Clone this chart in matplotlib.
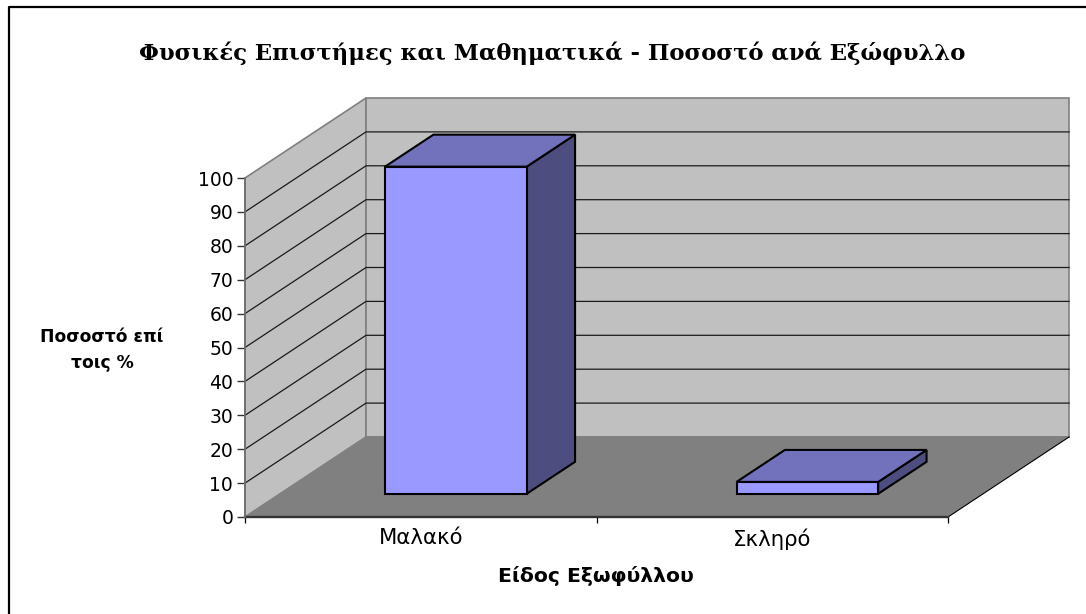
import matplotlib
matplotlib.use('Agg')
import matplotlib.pyplot as plt
from matplotlib.lines import Line2D
from matplotlib.patches import Polygon

title = 'Φυσικές Επιστήμες και Μαθηματικά - Ποσοστό ανά Εξώφυλλο'
xlabel = 'Είδος Εξωφύλλου'
ylabel = 'Ποσοστό επί\nτοις %'
categories = ['Μαλακό', 'Σκληρό']
values = [96.5, 3.5]
yticks = [0, 10, 20, 30, 40, 50, 60, 70, 80, 90, 100]

W, H = 1086, 614
# oblique depth: how far the back wall is shifted, in x and y data units
DX = 121 / 351.5
DY = 80 / 3.39
BAR_W = 0.403
D0, D1 = 0.29, 0.69

def pr(x, v, d):
    return (x + d * DX, v + d * DY)

fig = plt.figure(figsize=(W / 100, H / 100), dpi=100)
fig.patch.set_facecolor('white')
# outer frame, only top and left show in the picture
fig.add_artist(Line2D([8.5 / W, 8.5 / W, 1], [0, 1 - 7 / H, 1 - 7 / H], transform=fig.transFigure,
                      color='black', lw=1.6))

ax = fig.add_axes([245 / W, 1 - 517 / H, 703 / W, 339 / H])
ax.set_xlim(0, 2)
ax.set_ylim(0, 100)
ax.patch.set_visible(False)
for s in ax.spines.values():
    s.set_visible(False)

def face(pts, fc, ec, lw=1.0, z=1):
    ax.add_patch(Polygon(pts, closed=True, fc=fc, ec=ec, lw=lw, zorder=z, clip_on=False, joinstyle='miter'))

n = len(categories)
# walls and floor
face([pr(0, 0, 0), pr(0, 100, 0), pr(0, 100, 1), pr(0, 0, 1)], '#C0C0C0', '#808080', 1.2, 1)
face([pr(0, 0, 1), pr(0, 100, 1), pr(n, 100, 1), pr(n, 0, 1)], '#C0C0C0', '#808080', 1.2, 1)
face([pr(0, 0, 0), pr(n, 0, 0), pr(n, 0, 1), pr(0, 0, 1)], '#808080', 'none', 0, 2)
ax.plot(*zip(pr(0, 0, 1), pr(n, 0, 1)), color='#808080', lw=1.2, zorder=2, clip_on=False)
ax.plot(*zip(pr(n, 0, 0), pr(n, 0, 1)), color='black', lw=0.8, zorder=3, clip_on=False)
ax.plot(*zip(pr(0, 0, 0), pr(0, 0, 1)), color='#808080', lw=0.8, zorder=3, clip_on=False)

# gridlines on side and back wall
for v in yticks[1:-1]:
    ax.plot(*zip(pr(0, v, 0), pr(0, v, 1), pr(n, v, 1)), color='#1a1a1a', lw=0.9, zorder=2, clip_on=False)

# bars
for i, v in enumerate(values):
    x0 = i + 0.5 - BAR_W / 2
    x1 = i + 0.5 + BAR_W / 2
    face([pr(x1, 0, D0), pr(x1, v, D0), pr(x1, v, D1), pr(x1, 0, D1)], '#4D4D80', 'black', 1.5, 4)
    face([pr(x0, v, D0), pr(x1, v, D0), pr(x1, v, D1), pr(x0, v, D1)], '#7272BC', 'black', 1.5, 4)
    face([pr(x0, 0, D0), pr(x1, 0, D0), pr(x1, v, D0), pr(x0, v, D0)], '#9999FF', 'black', 1.5, 5)

# front axis lines
ax.plot([0, n], [0, 0], color='#333333', lw=1.7, zorder=6, clip_on=False)
ax.plot([0, 0], [0, 100], color='#707070', lw=1.3, zorder=6, clip_on=False)

ax.set_yticks(yticks)
ax.set_yticklabels([str(t) for t in yticks], fontsize=13.5, family='DejaVu Sans', color='black')
ax.tick_params(axis='y', length=6, width=1.0, color='#333333', pad=2.5)
ax.set_xticks([0, 1, 2])
ax.set_xticks([i + 0.5 for i in range(n)], minor=True)
ax.set_xticklabels(['', '', ''])
ax.set_xticklabels(categories, minor=True, fontsize=15.3, family='DejaVu Sans')
ax.tick_params(axis='x', which='major', length=4, width=0.9, color='black')
ax.tick_params(axis='x', which='minor', length=0, pad=8)

fig.text(552 / W, 1 - 53 / H, title, ha='center', va='center', fontsize=16.4,
         family='DejaVu Serif', fontweight='bold')
fig.text(102 / W, 1 - 350 / H, ylabel, ha='center', va='center', fontsize=12.3,
         family='DejaVu Sans', fontweight='bold', linespacing=1.55)
fig.text(596 / W, 1 - 576 / H, xlabel, ha='center', va='center', fontsize=14.7,
         family='DejaVu Sans', fontweight='bold')

fig.savefig('out.png', dpi=100)
